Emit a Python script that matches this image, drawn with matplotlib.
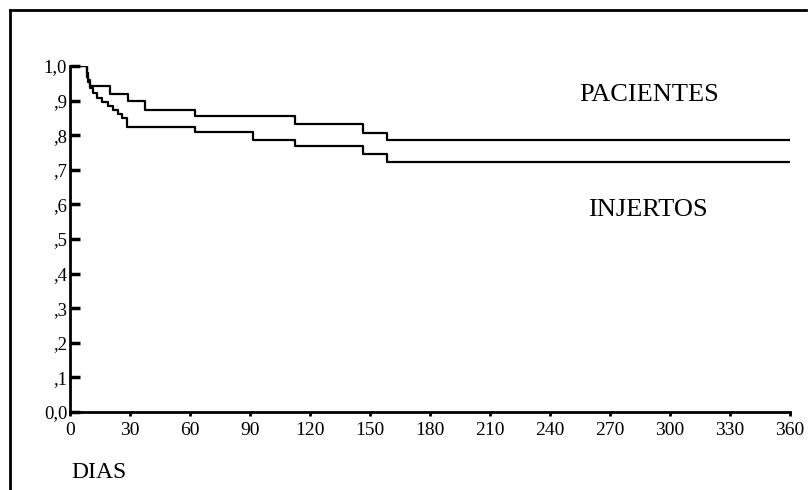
import matplotlib
matplotlib.use("Agg")
import matplotlib.pyplot as plt
from matplotlib.lines import Line2D

# Kaplan-Meier step data (day, survival)
pac_days = [0, 8.5, 9, 10, 11.5, 20, 29, 37.5, 62.5, 112.5, 146.5, 158.5, 360]
pac_surv = [1.0, 0.98, 0.96, 0.942, 0.942, 0.92, 0.90, 0.873, 0.855, 0.832, 0.806, 0.785, 0.785]

inj_days = [0, 8.5, 9, 10, 11.5, 13.5, 16, 19, 21.5, 24, 26, 28.5, 62.5, 91.5, 112.5, 146.5, 158.5, 360]
inj_surv = [1.0, 0.968, 0.954, 0.936, 0.922, 0.908, 0.896, 0.885, 0.873, 0.862, 0.85, 0.824, 0.809, 0.786, 0.769, 0.746, 0.723, 0.723]

x_ticks = [0, 30, 60, 90, 120, 150, 180, 210, 240, 270, 300, 330, 360]
y_ticks = [0.0, 0.1, 0.2, 0.3, 0.4, 0.5, 0.6, 0.7, 0.8, 0.9, 1.0]
y_labels = ["0,0", ",1", ",2", ",3", ",4", ",5", ",6", ",7", ",8", ",9", "1,0"]

plt.rcParams['font.family'] = ['Liberation Serif', 'DejaVu Serif']

fig = plt.figure(figsize=(8.12, 4.90), dpi=100)
ax = fig.add_axes([70/812, 1-412/490, 720/812, (412-66)/490])

ax.step(pac_days, pac_surv, where='post', color='black', lw=1.6)
ax.step(inj_days, inj_surv, where='post', color='black', lw=1.6)

ax.set_xlim(0, 360)
ax.set_ylim(0, 1.0)
ax.set_xticks(x_ticks)
ax.set_xticklabels([str(v) for v in x_ticks], fontsize=14)
ax.set_yticks(y_ticks)
ax.set_yticklabels(y_labels, fontsize=13.5)
for s in ['top', 'right']:
    ax.spines[s].set_visible(False)
for s in ['left', 'bottom']:
    ax.spines[s].set_linewidth(2)
ax.tick_params(axis='y', direction='in', length=7, width=2.5, pad=2)
ax.tick_params(axis='x', direction='out', length=3, width=2, pad=4)

ax.text(649/812, 1-95/490, "PACIENTES", transform=fig.transFigure, ha='center', va='center', fontsize=19)
ax.text(648/812, 1-210/490, "INJERTOS", transform=fig.transFigure, ha='center', va='center', fontsize=19)
fig.text(99/812, 1-472/490, "DIAS", ha='center', va='center', fontsize=17)

fig.add_artist(Line2D([10/812, 806/812], [1-10/490, 1-10/490], transform=fig.transFigure, color='black', lw=2))
fig.add_artist(Line2D([10/812, 10/812], [1-10/490, 0], transform=fig.transFigure, color='black', lw=2))

fig.savefig("out.png", dpi=100)
